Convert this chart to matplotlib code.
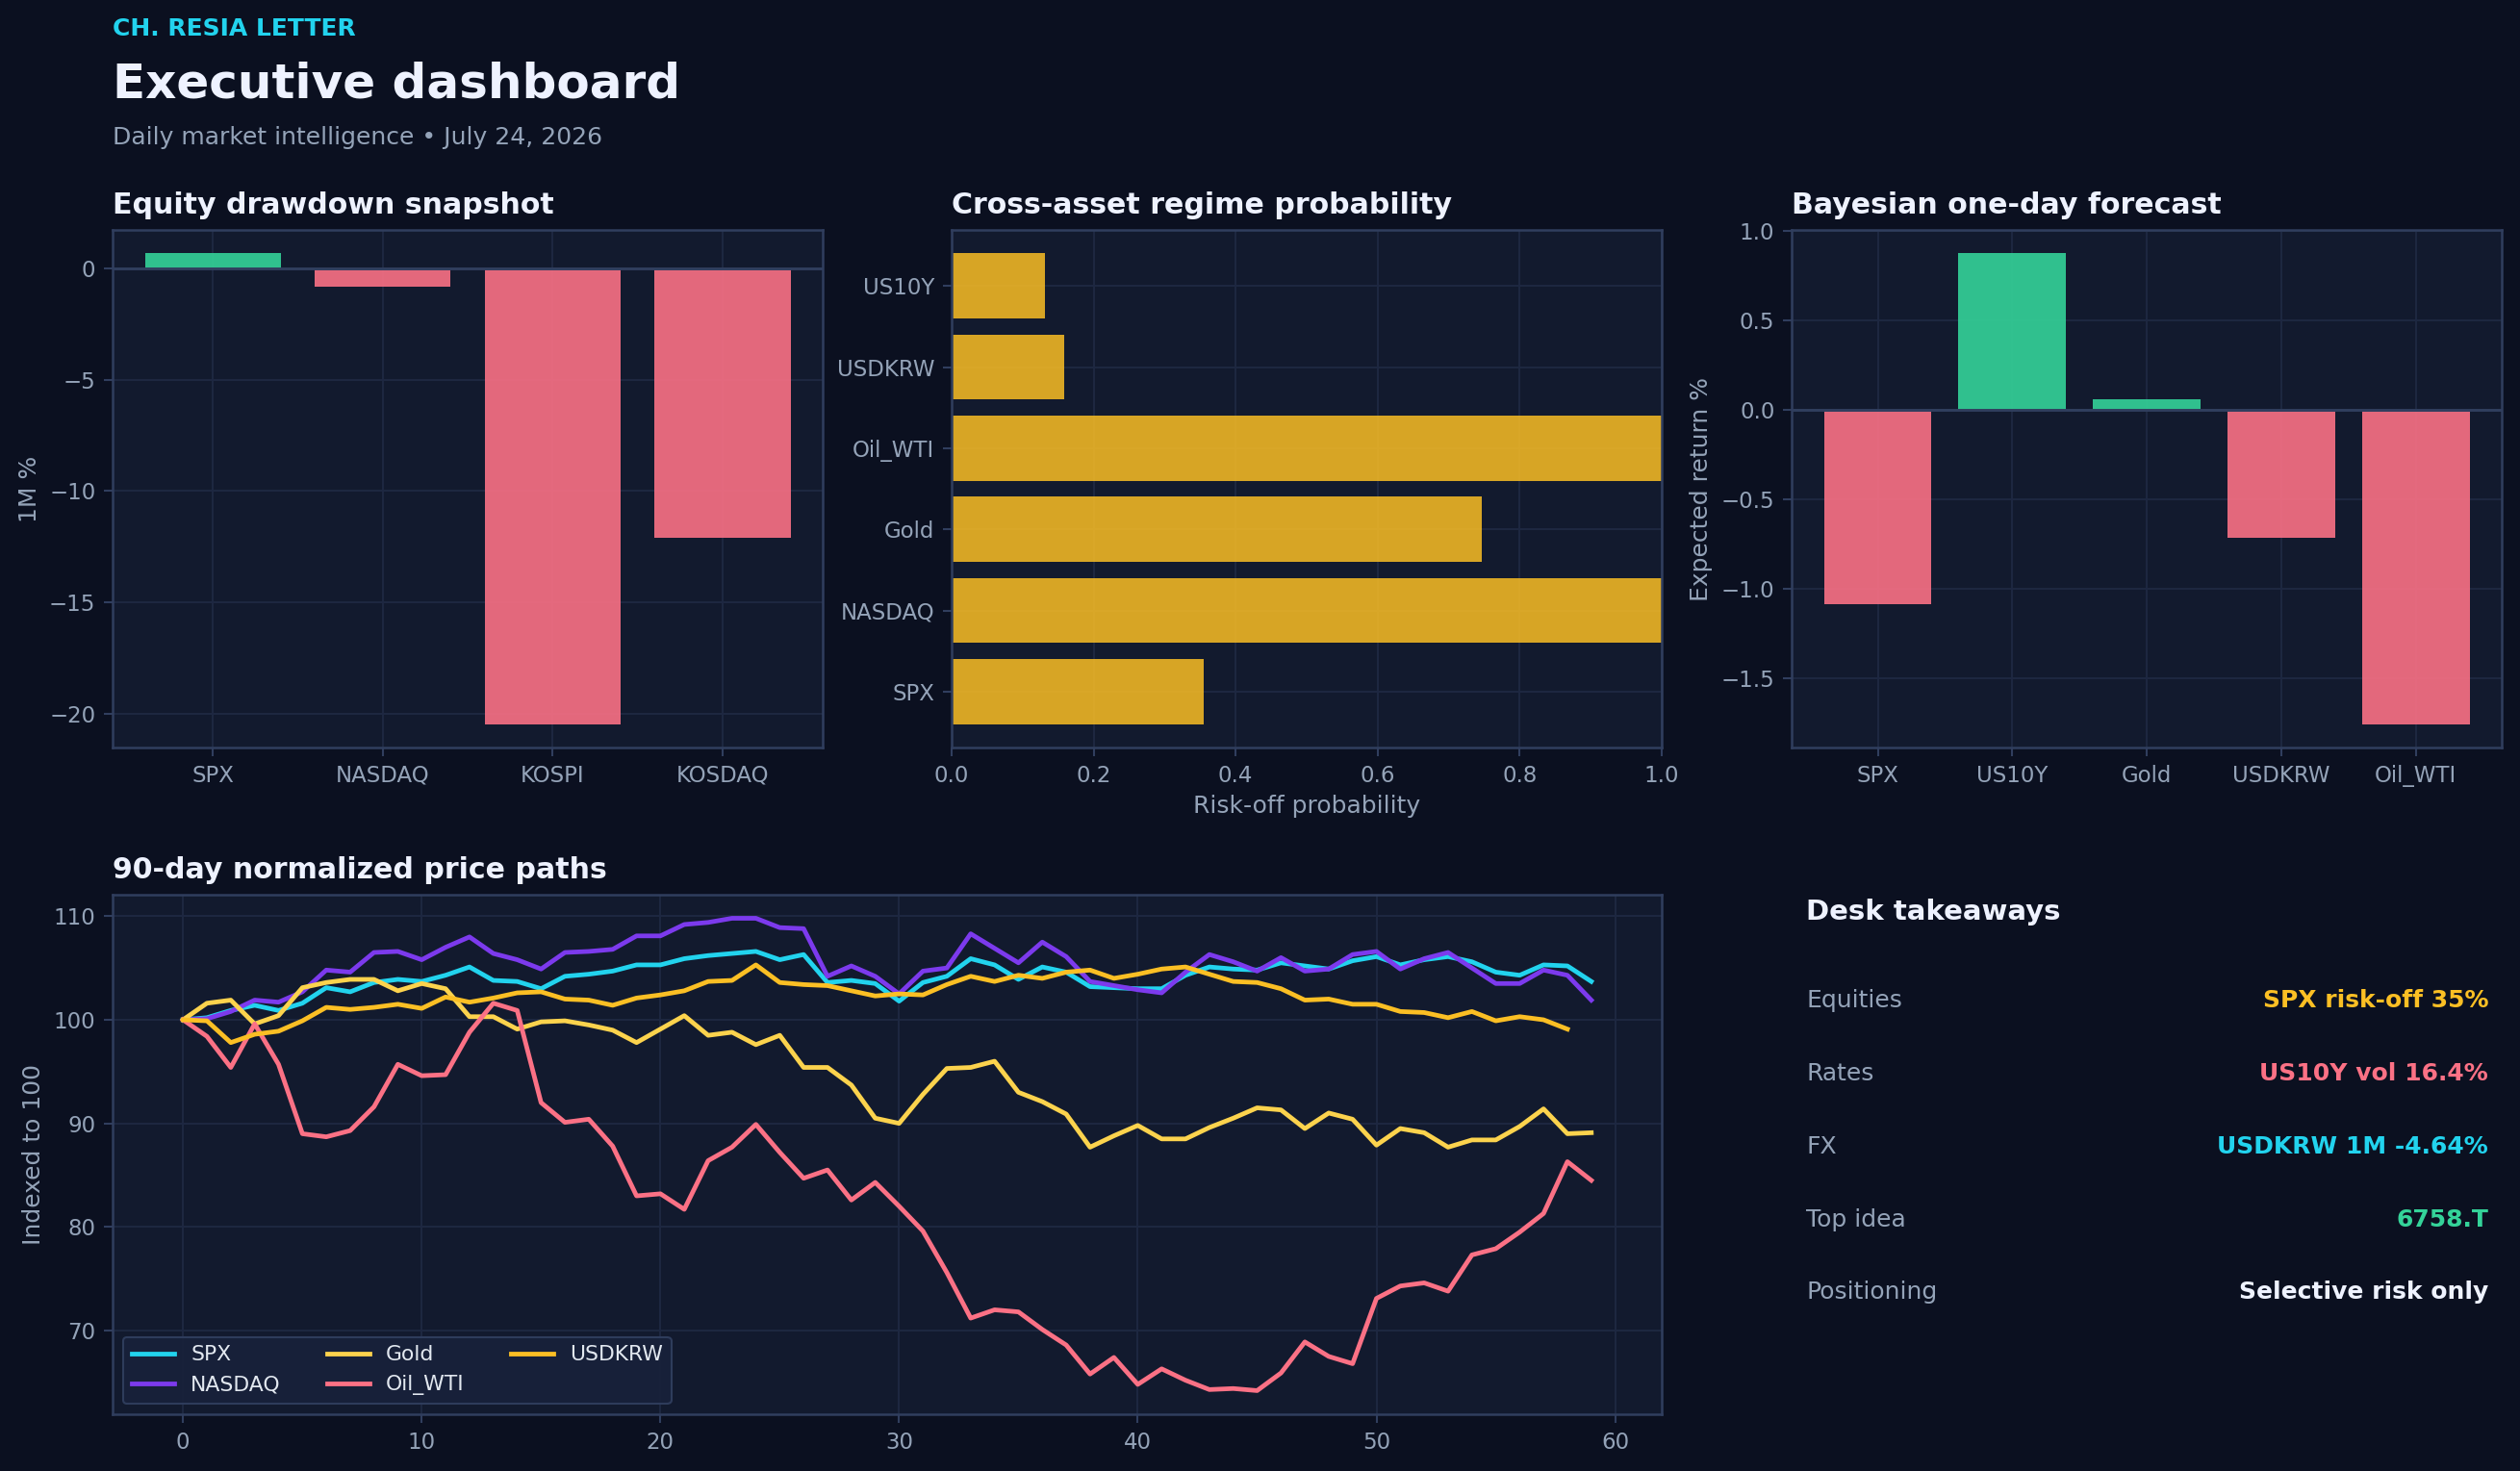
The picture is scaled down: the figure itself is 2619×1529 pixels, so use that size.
import numpy as np
import matplotlib
matplotlib.use("Agg")
import matplotlib.pyplot as plt

# colours
BG = "#0B1020"
PANEL = "#121A2E"
EDGE = "#303E5E"
GRID = "#1E2842"
TXT = "#EEF2FF"
MUTED = "#94A3B8"
RED = "#FB7185"
GREEN = "#34D399"
AMBER = "#FBBF24"
CYAN = "#22D3EE"

# --- data ---
eq_names = ["SPX", "NASDAQ", "KOSPI", "KOSDAQ"]
eq_1m = [0.66, -0.84, -20.45, -12.09]

regime_names = ["SPX", "NASDAQ", "Gold", "Oil_WTI", "USDKRW", "US10Y"]
regime_prob = [0.355, 1.0, 0.746, 1.0, 0.159, 0.131]

fc_names = ["SPX", "US10Y", "Gold", "USDKRW", "Oil_WTI"]
fc_ret = [-1.085, 0.874, 0.062, -0.712, -1.754]

spx = [100.0, 100.2, 100.9, 101.4, 100.9, 101.6, 103.1, 102.7, 103.6, 103.9,
       103.7, 104.3, 105.1, 103.8, 103.7, 103.0, 104.2, 104.4, 104.7, 105.3,
       105.3, 105.9, 106.2, 106.4, 106.6, 105.8, 106.3, 103.6, 103.8, 103.5,
       101.8, 103.6, 104.2, 105.9, 105.3, 103.9, 105.1, 104.6, 103.2, 103.1,
       103.0, 103.0, 104.3, 105.1, 104.9, 104.8, 105.5, 105.2, 104.9, 105.7,
       106.1, 105.3, 105.8, 106.1, 105.6, 104.6, 104.3, 105.3, 105.2, 103.7]
nasdaq = [100.0, 100.1, 100.8, 101.9, 101.7, 102.7, 104.8, 104.6, 106.5, 106.6,
          105.8, 107.0, 108.0, 106.4, 105.8, 104.9, 106.5, 106.6, 106.8, 108.1,
          108.1, 109.2, 109.4, 109.8, 109.8, 108.9, 108.8, 104.2, 105.2, 104.2,
          102.5, 104.7, 105.0, 108.3, 106.9, 105.5, 107.5, 106.1, 103.7, 103.3,
          102.9, 102.6, 104.6, 106.3, 105.6, 104.7, 106.0, 104.7, 104.9, 106.3,
          106.6, 104.9, 105.9, 106.5, 105.0, 103.5, 103.5, 104.8, 104.3, 101.9]
gold = [100.0, 101.6, 101.9, 99.6, 100.4, 103.1, 103.6, 103.9, 103.9, 102.8,
        103.5, 103.0, 100.3, 100.3, 99.1, 99.8, 99.9, 99.5, 99.0, 97.8,
        99.1, 100.4, 98.5, 98.8, 97.6, 98.5, 95.4, 95.4, 93.7, 90.5,
        90.0, 92.8, 95.3, 95.4, 96.0, 93.0, 92.1, 90.9, 87.7, 88.8,
        89.8, 88.5, 88.5, 89.6, 90.5, 91.5, 91.3, 89.5, 91.0, 90.4,
        87.9, 89.5, 89.1, 87.7, 88.4, 88.4, 89.7, 91.4, 89.0, 89.1]
oil = [100.0, 98.4, 95.4, 99.6, 95.7, 89.0, 88.7, 89.3, 91.6, 95.7,
       94.6, 94.7, 98.8, 101.6, 100.9, 92.0, 90.1, 90.4, 87.8, 83.0,
       83.2, 81.7, 86.4, 87.7, 89.9, 87.2, 84.7, 85.5, 82.6, 84.3,
       82.0, 79.6, 75.6, 71.2, 72.0, 71.8, 70.1, 68.6, 65.8, 67.4,
       64.8, 66.3, 65.2, 64.3, 64.4, 64.2, 65.9, 68.9, 67.5, 66.8,
       73.1, 74.3, 74.6, 73.8, 77.3, 77.9, 79.5, 81.3, 86.3, 84.5]
usdkrw = [100.0, 99.9, 97.8, 98.6, 98.9, 99.9, 101.2, 101.0, 101.2, 101.5,
          101.1, 102.2, 101.7, 102.1, 102.6, 102.7, 102.0, 101.9, 101.4, 102.1,
          102.4, 102.8, 103.7, 103.8, 105.3, 103.6, 103.4, 103.3, 102.8, 102.3,
          102.5, 102.4, 103.4, 104.2, 103.7, 104.3, 104.0, 104.6, 104.8, 104.0,
          104.4, 104.9, 105.1, 104.4, 103.7, 103.6, 103.0, 101.9, 102.0, 101.5,
          101.5, 100.8, 100.7, 100.2, 100.8, 99.9, 100.3, 100.0, 99.1]

path_names = ["SPX", "NASDAQ", "Gold", "Oil_WTI", "USDKRW"]
path_vals = [spx, nasdaq, gold, oil, usdkrw]
path_colors = [CYAN, "#7C3AED", "#FCD34D", RED, AMBER]

desk_labels = ["Equities", "Rates", "FX", "Top idea", "Positioning"]
desk_values = ["SPX risk-off 35%", "US10Y vol 16.4%", "USDKRW 1M -4.64%", "6758.T", "Selective risk only"]
desk_colors = [AMBER, RED, CYAN, GREEN, TXT]

plt.rcParams["font.family"] = "DejaVu Sans"

fig = plt.figure(figsize=(2619 / 150, 1529 / 150), dpi=150, facecolor=BG)


def style(ax, title):
    ax.set_facecolor(PANEL)
    for s in ax.spines.values():
        s.set_color(EDGE)
        s.set_linewidth(1.2)
    ax.tick_params(colors=EDGE, labelcolor=MUTED, labelsize=11, length=4.5, width=1, pad=4)
    ax.grid(True, color=GRID, linewidth=0.9)
    ax.set_axisbelow(True)
    ax.set_title(title, loc="left", color=TXT, fontsize=14.4, fontweight="bold", pad=8)


L1, L2, L3 = 0.0447, 0.3776, 0.7110
W = 0.2818
TOP_B, TOP_H = 0.4918, 0.3519
BOT_B, BOT_H = 0.0386, 0.3532

# equity drawdown
ax1 = fig.add_axes([L1, TOP_B, W, TOP_H])
style(ax1, "Equity drawdown snapshot")
ax1.bar(eq_names, eq_1m, color=[GREEN if v >= 0 else RED for v in eq_1m], alpha=0.9, width=0.8)
ax1.axhline(0, color=EDGE, linewidth=1.4)
ax1.set_ylabel("1M %", color=MUTED, fontsize=12)

# regime probability
ax2 = fig.add_axes([L2, TOP_B, W, TOP_H])
style(ax2, "Cross-asset regime probability")
ax2.barh(regime_names, regime_prob, color=AMBER, alpha=0.85, height=0.8)
ax2.set_xlim(0, 1)
ax2.set_xlabel("Risk-off probability", color=MUTED, fontsize=12)

# forecast
ax3 = fig.add_axes([L3, TOP_B, W, TOP_H])
style(ax3, "Bayesian one-day forecast")
ax3.bar(fc_names, fc_ret, color=[GREEN if v >= 0 else RED for v in fc_ret], alpha=0.9, width=0.8)
ax3.axhline(0, color=EDGE, linewidth=1.4)
ax3.set_ylabel("Expected return %", color=MUTED, fontsize=12)

# price paths
ax4 = fig.add_axes([L1, BOT_B, L2 + W - L1, BOT_H])
style(ax4, "90-day normalized price paths")
for name, vals, c in zip(path_names, path_vals, path_colors):
    ax4.plot(np.arange(len(vals)), vals, color=c, linewidth=2.3, label=name)
ax4.set_ylabel("Indexed to 100", color=MUTED, fontsize=12)
leg = ax4.legend(loc="lower left", ncol=3, fontsize=10.5, facecolor="#18213A",
                 edgecolor=EDGE, labelcolor="#E2E8F0", framealpha=0.95,
                 columnspacing=2.2, handlelength=2.0)

# desk takeaways
fig.text(0.7167, 0.380, "Desk takeaways", color=TXT, fontsize=14, fontweight="bold", va="center")
row_y = [0.3198, 0.2701, 0.2204, 0.1707, 0.1216]
for y, lab, val, c in zip(row_y, desk_labels, desk_values, desk_colors):
    fig.text(0.7167, y, lab, color=MUTED, fontsize=12, va="center")
    fig.text(0.9874, y, val, color=c, fontsize=12, fontweight="bold", va="center", ha="right")

# header
fig.text(0.0447, 0.976, "CH. RESIA LETTER", color=CYAN, fontsize=12, fontweight="bold", va="baseline")
fig.text(0.0447, 0.9335, "Executive dashboard", color=TXT, fontsize=24, fontweight="bold", va="baseline")
fig.text(0.0447, 0.9019, "Daily market intelligence \u2022 July 24, 2026", color=MUTED, fontsize=12, va="baseline")

fig.savefig("out.png", dpi=150, facecolor=BG)
